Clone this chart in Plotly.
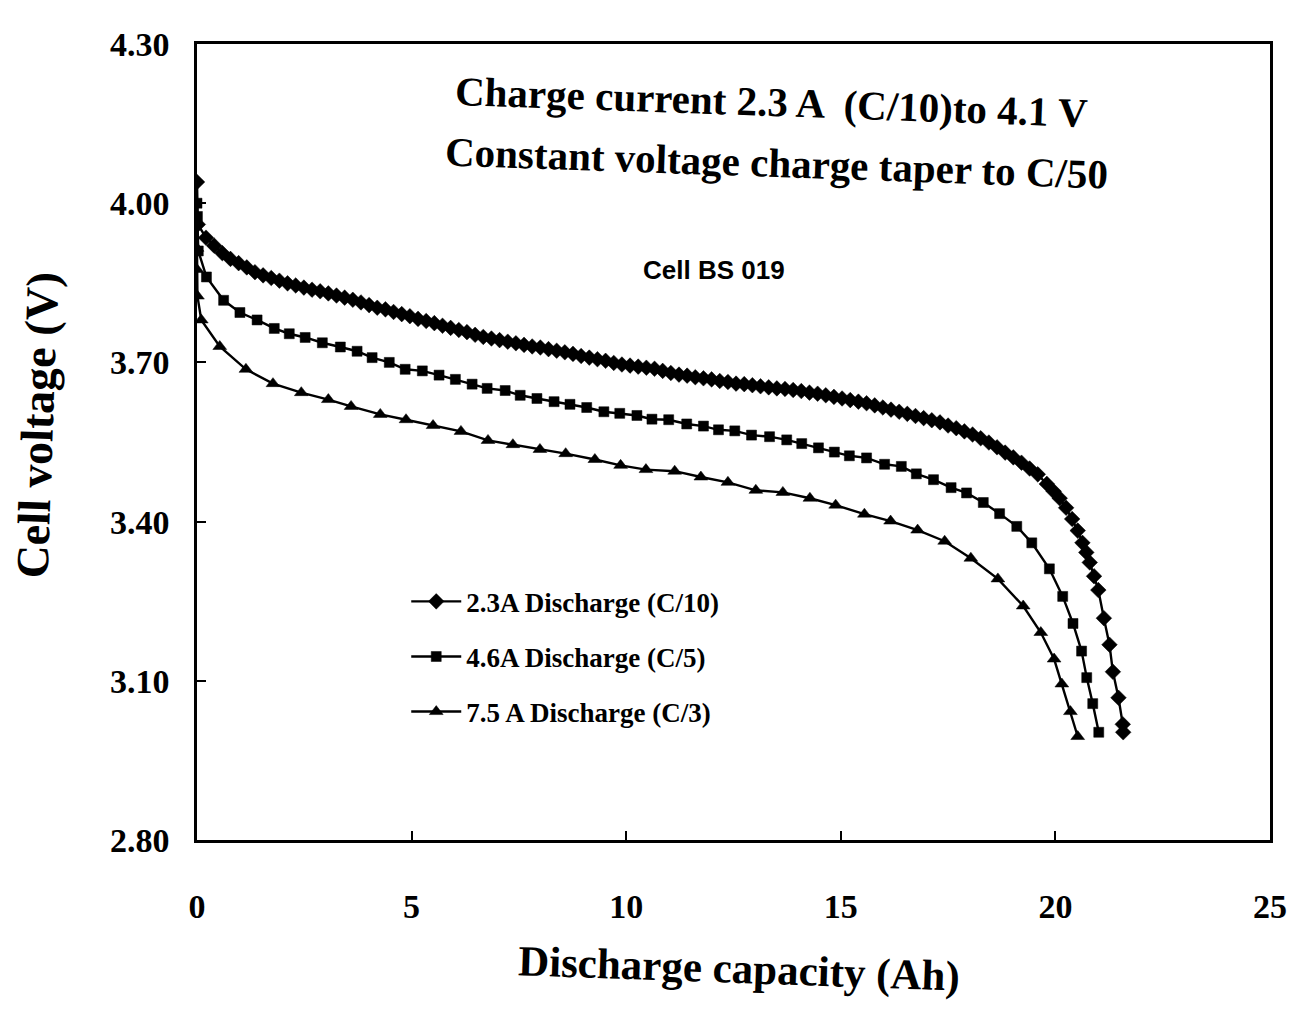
import plotly.graph_objects as go

# Discharge curves of cell BS 019 at three rates (capacity in Ah, voltage in V)
cap_c10 = [0.00, 0.02, 0.21, 0.40, 0.59, 0.78, 0.97, 1.16, 1.35, 1.54, 1.73, 1.92,
           2.11, 2.30, 2.49, 2.68, 2.87, 3.06, 3.25, 3.44, 3.63, 3.82, 4.01, 4.20,
           4.39, 4.58, 4.77, 4.96, 5.15, 5.34, 5.53, 5.72, 5.91, 6.10, 6.29, 6.48,
           6.67, 6.86, 7.05, 7.24, 7.43, 7.62, 7.81, 8.00, 8.19, 8.38, 8.57, 8.76,
           8.95, 9.14, 9.33, 9.52, 9.71, 9.90, 10.09, 10.28, 10.47, 10.66, 10.85,
           11.04, 11.23, 11.42, 11.61, 11.80, 11.99, 12.18, 12.37, 12.56, 12.75,
           12.94, 13.13, 13.32, 13.51, 13.70, 13.89, 14.08, 14.27, 14.46, 14.65,
           14.84, 15.03, 15.22, 15.41, 15.60, 15.79, 15.98, 16.17, 16.36, 16.55,
           16.74, 16.93, 17.12, 17.31, 17.50, 17.69, 17.88, 18.07, 18.26, 18.45,
           18.64, 18.83, 19.02, 19.21, 19.40, 19.59, 19.80, 19.96, 20.10, 20.25,
           20.39, 20.52, 20.63, 20.72, 20.80, 20.90, 21.00, 21.13, 21.26, 21.34,
           21.47, 21.57, 21.58]
volt_c10 = [4.040, 3.960, 3.935, 3.920, 3.906, 3.895, 3.887, 3.879, 3.870, 3.864,
            3.859, 3.854, 3.849, 3.845, 3.841, 3.837, 3.834, 3.830, 3.826, 3.822,
            3.818, 3.813, 3.808, 3.803, 3.800, 3.795, 3.791, 3.787, 3.782, 3.778,
            3.774, 3.769, 3.765, 3.761, 3.757, 3.752, 3.748, 3.745, 3.742, 3.739,
            3.736, 3.733, 3.730, 3.728, 3.725, 3.722, 3.719, 3.716, 3.712, 3.709,
            3.706, 3.703, 3.699, 3.696, 3.694, 3.692, 3.690, 3.688, 3.684, 3.680,
            3.677, 3.675, 3.672, 3.670, 3.668, 3.665, 3.663, 3.660, 3.659, 3.657,
            3.655, 3.653, 3.651, 3.650, 3.648, 3.646, 3.643, 3.641, 3.638, 3.635,
            3.632, 3.629, 3.626, 3.623, 3.619, 3.615, 3.611, 3.607, 3.603, 3.599,
            3.595, 3.591, 3.587, 3.581, 3.576, 3.570, 3.564, 3.557, 3.549, 3.540,
            3.530, 3.521, 3.511, 3.500, 3.489, 3.471, 3.457, 3.444, 3.426, 3.405,
            3.383, 3.360, 3.342, 3.323, 3.297, 3.271, 3.218, 3.168, 3.117, 3.068,
            3.018, 3.003]

cap_c5 = [0.00, 0.01, 0.03, 0.22, 0.62, 1.00, 1.40, 1.80, 2.15, 2.52, 2.92, 3.34,
          3.73, 4.08, 4.48, 4.85, 5.25, 5.64, 6.02, 6.41, 6.76, 7.18, 7.53, 7.92,
          8.32, 8.69, 9.08, 9.48, 9.85, 10.25, 10.60, 10.99, 11.41, 11.80, 12.15,
          12.53, 12.92, 13.34, 13.74, 14.09, 14.48, 14.85, 15.20, 15.60, 16.02,
          16.41, 16.76, 17.16, 17.57, 17.93, 18.32, 18.70, 19.10, 19.45, 19.86,
          20.17, 20.41, 20.61, 20.73, 20.87, 21.01]
volt_c5 = [4.000, 3.975, 3.910, 3.861, 3.817, 3.794, 3.780, 3.764, 3.754, 3.747,
           3.737, 3.729, 3.721, 3.709, 3.700, 3.687, 3.684, 3.676, 3.668, 3.659,
           3.651, 3.647, 3.638, 3.632, 3.626, 3.621, 3.615, 3.607, 3.604, 3.600,
           3.593, 3.592, 3.584, 3.580, 3.573, 3.571, 3.563, 3.560, 3.554, 3.547,
           3.539, 3.531, 3.524, 3.520, 3.508, 3.504, 3.490, 3.479, 3.464, 3.454,
           3.436, 3.415, 3.391, 3.360, 3.311, 3.259, 3.208, 3.156, 3.106, 3.057,
           3.003]

cap_c3 = [0.00, 0.00, 0.01, 0.10, 0.53, 1.14, 1.77, 2.43, 3.06, 3.59, 4.27, 4.87,
          5.50, 6.15, 6.78, 7.36, 7.99, 8.59, 9.27, 9.87, 10.46, 11.13, 11.74,
          12.37, 13.02, 13.65, 14.28, 14.88, 15.55, 16.16, 16.79, 17.42, 18.03,
          18.66, 19.25, 19.66, 19.97, 20.15, 20.35, 20.52]
volt_c3 = [3.915, 3.875, 3.825, 3.780, 3.730, 3.687, 3.660, 3.643, 3.630, 3.617,
           3.602, 3.592, 3.581, 3.570, 3.553, 3.545, 3.536, 3.528, 3.517, 3.506,
           3.498, 3.495, 3.484, 3.474, 3.459, 3.455, 3.444, 3.431, 3.414, 3.401,
           3.384, 3.363, 3.331, 3.292, 3.241, 3.191, 3.141, 3.094, 3.042, 2.995]

series_names = ["2.3A Discharge (C/10)", "4.6A Discharge (C/5)", "7.5 A Discharge (C/3)"]

x_ticks = [0, 5, 10, 15, 20, 25]
y_ticks = [2.80, 3.10, 3.40, 3.70, 4.00, 4.30]
y_tick_text = ["2.80", "3.10", "3.40", "3.70", "4.00", "4.30"]

SERIF = "Liberation Serif, Times New Roman, serif"
SANS = "Liberation Sans, Arial, sans-serif"

fig = go.Figure()

styles = [("diamond", 12), ("square", 10), ("triangle-up", 12)]
data = [(cap_c10, volt_c10), (cap_c5, volt_c5), (cap_c3, volt_c3)]
for i, ((xs, ys), name, (sym, size)) in enumerate(zip(data, series_names, styles)):
    fig.add_trace(go.Scatter(
        x=xs, y=ys, name=name, mode="lines+markers",
        legendgroup=f"g{i}",
        line=dict(color="black", width=2.4),
        marker=dict(symbol=sym, size=size, color="black",
                    line=dict(color="black", width=0.5)),
    ))

fig.update_layout(
    width=1292, height=1015,
    margin=dict(l=197, r=22, t=44, b=175),
    paper_bgcolor="white", plot_bgcolor="white",
    showlegend=True,
    legend=dict(
        x=0.195, y=0.33, xanchor="left", yanchor="top",
        bgcolor="rgba(0,0,0,0)",
        font=dict(family=SERIF, size=27, color="black", weight="bold"),
        tracegroupgap=17, itemwidth=50,
    ),
    font=dict(family=SERIF, color="black"),
)

fig.update_xaxes(
    range=[0, 25], tickvals=x_ticks, ticktext=[str(t) for t in x_ticks],
    showgrid=False, zeroline=False, automargin=False,
    showline=True, linecolor="black", linewidth=2.5, mirror=True,
    ticks="inside", ticklen=9, tickwidth=2, tickcolor="black",
    ticklabelstandoff=34, ticklabeloverflow="allow",
    tickfont=dict(family=SERIF, size=34, color="black", weight="bold"),
)
fig.update_yaxes(
    range=[2.8, 4.3], tickvals=y_ticks, ticktext=y_tick_text,
    showgrid=False, zeroline=False, automargin=False,
    showline=True, linecolor="black", linewidth=2.5, mirror=True,
    ticks="inside", ticklen=9, tickwidth=2, tickcolor="black",
    ticklabelstandoff=18,
    tickfont=dict(family=SERIF, size=34, color="black", weight="bold"),
)

# Chart notes and axis titles
fig.add_annotation(
    text="<b>Charge current 2.3 A  (C/10)to 4.1 V</b>",
    xref="paper", yref="paper", x=0.535, y=0.972, xanchor="center", showarrow=False,
    textangle=2, font=dict(family=SERIF, size=41, color="black"),
)
fig.add_annotation(
    text="<b>Constant voltage charge taper to C/50</b>",
    xref="paper", yref="paper", x=0.54, y=0.897, xanchor="center", showarrow=False,
    textangle=2, font=dict(family=SERIF, size=41, color="black"),
)
fig.add_annotation(
    text="<b>Cell BS 019</b>",
    xref="paper", yref="paper", x=0.482, y=0.738, xanchor="center", showarrow=False,
    font=dict(family=SANS, size=26, color="black"),
)
fig.add_annotation(
    text="<b>Cell voltage (V)</b>",
    xref="paper", yref="paper", x=-0.149, y=0.521, xanchor="center",
    yanchor="middle", showarrow=False,
    textangle=-88, font=dict(family=SERIF, size=46, color="black"),
)
fig.add_annotation(
    text="<b>Discharge capacity (Ah)</b>",
    xref="paper", yref="paper", x=0.505, y=-0.205, xanchor="center", showarrow=False,
    textangle=2, font=dict(family=SERIF, size=43, color="black"),
)

fig.write_html("out.html")
